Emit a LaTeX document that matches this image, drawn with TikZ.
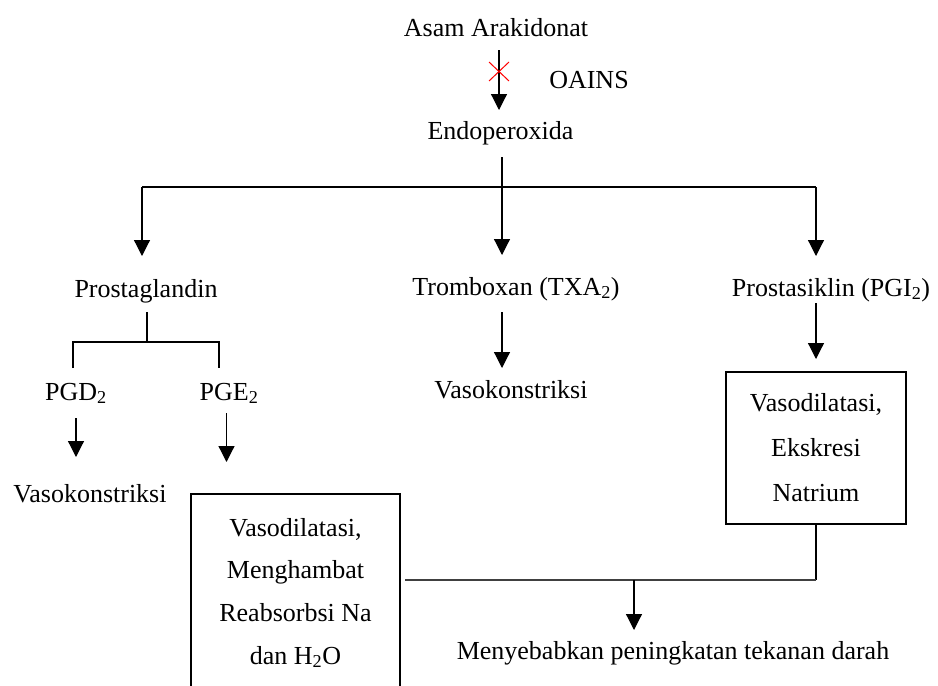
\documentclass[tikz,border=0pt]{standalone}
\usepackage{fontspec}
\setmainfont{Liberation Serif}
\usetikzlibrary{arrows.meta}
\begin{document}
\begin{tikzpicture}[x=1pt,y=-1pt,
  txt/.style={inner sep=0pt, outer sep=0pt, anchor=base, text height=18pt, text depth=6pt, font=\fontsize{26}{30}\selectfont},
  boxR/.style={draw, line width=2pt, inner sep=0pt, outer sep=0pt, minimum width=180pt, minimum height=152pt, align=center, font=\fontsize{26}{45}\selectfont},
  boxL/.style={draw, line width=2pt, inner sep=0pt, outer sep=0pt, minimum width=209pt, minimum height=198pt, align=center, font=\fontsize{26}{42.7}\selectfont},
  conn/.style={line width=1.2pt},
  arr/.style={conn, -{Triangle[length=16pt,width=16pt]}},
  cross/.style={red, line width=1pt}
]
\useasboundingbox (0,0) rectangle (938,686);
\clip (0,0) rectangle (938,686);

% text nodes
\node[txt] (asam) at (496,36) {Asam Arakidonat};
\node[txt] (oains) at (589,88) {OAINS};
\node[txt] (endo) at (500.5,139) {Endoperoxida};
\node[txt] (prost) at (146,297) {Prostaglandin};
\node[txt] (trom) at (516,295) {Tromboxan (TXA\textsubscript{2})};
\node[txt] (pgi) at (831,296) {Prostasiklin (PGI\textsubscript{2})};
\node[txt] (pgd) at (76,400) {PGD\textsubscript{2}};
\node[txt] (pge) at (229,400) {PGE\textsubscript{2}};
\node[txt] (vasoL) at (90,502) {Vasokonstriksi};
\node[txt] (vasoM) at (511,398) {Vasokonstriksi};
\node[boxR] (boxR) at (816,448) {Vasodilatasi,\\Ekskresi\\Natrium};
\node[boxL] (boxL) at (295.5,593) {Vasodilatasi,\\Menghambat\\Reabsorbsi Na\\dan H\textsubscript{2}O};
\node[txt] (hasil) at (673,659) {Menyebabkan peningkatan tekanan darah};

% junction coordinates
\coordinate (split) at (502,187);
\coordinate (bL) at (142,187);
\coordinate (bR) at (816,187);
\coordinate (pj) at (147,342);
\coordinate (pdL) at (73,342);
\coordinate (pdR) at (219,342);
\coordinate (jR) at (816,580);
\coordinate (jL) at (405,580);
\coordinate (jM) at (634,580);
\coordinate (xm) at (499,71.5);

% top arrow with inhibition cross
\draw[arr, shorten <=8pt, shorten >=11pt] (asam.south -| xm) -- (endo.north -| xm);
\draw[cross] ([xshift=-10pt,yshift=9.5pt]xm) -- ([xshift=10pt,yshift=-9.5pt]xm);
\draw[cross] ([xshift=-10pt,yshift=-9.5pt]xm) -- ([xshift=10pt,yshift=9.5pt]xm);

% split into three branches
\draw[conn, shorten <=12pt] (split |- endo.south) -- (split);
\draw[conn] (bL) -- (bR);
\draw[arr, shorten >=23pt] (bL) -- (bL |- prost.north);
\draw[arr, shorten >=22pt] (split) -- (split |- trom.north);
\draw[arr, shorten >=22pt] (bR) -- (bR |- pgi.north);

% prostaglandin subtree
\draw[conn, shorten <=9pt] (pj |- prost.south) -- (pj);
\draw[conn] ([yshift=-26pt]pdL) -- (pdL) -- (pdR) -- ([yshift=-26pt]pdR);
\draw[arr, shorten <=12pt, shorten >=27pt] (pgd.south) -- (pgd.south |- vasoL.north);
\draw[arr, shorten <=7pt, shorten >=32pt] ([xshift=-2.5pt]pge.south) -- ([xshift=-2.5pt]pge.south |- boxL.north);

% tromboxan
\draw[arr, shorten <=11pt, shorten >=12pt] (split |- trom.south) -- (split |- vasoM.north);

% prostasiklin
\draw[arr, shorten <=1pt, shorten >=13pt] (bR |- pgi.south) -- (boxR.north);

% bottom join
\draw[conn] (boxR.south) -- (jR);
\draw[line width=1.6pt, black!75] (jR) -- (jL);
\draw[arr, shorten >=11pt] (jM) -- (jM |- hasil.north);
\end{tikzpicture}
\end{document}
